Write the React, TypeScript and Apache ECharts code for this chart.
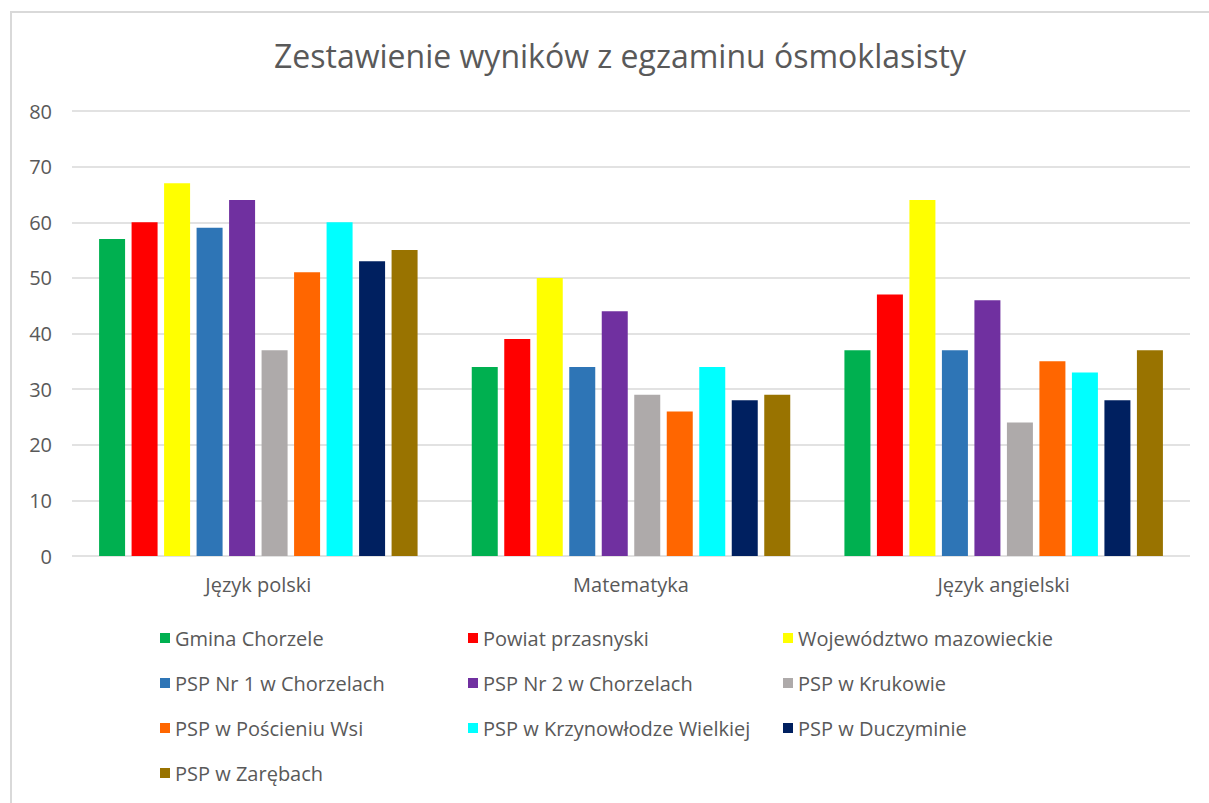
import React, { useEffect, useRef } from "react";
import * as echarts from "echarts";

const categories = ["Język polski", "Matematyka", "Język angielski"];
const seriesNames = [
  "Gmina Chorzele",
  "Powiat przasnyski",
  "Województwo mazowieckie",
  "PSP Nr 1 w Chorzelach",
  "PSP Nr 2 w Chorzelach",
  "PSP w Krukowie",
  "PSP w Pościeniu Wsi",
  "PSP w Krzynowłodze Wielkiej",
  "PSP w Duczyminie",
  "PSP w Zarębach",
];
const seriesColors = [
  "#00B050",
  "#FF0000",
  "#FFFF00",
  "#2E75B6",
  "#7030A0",
  "#AEAAAA",
  "#FF6600",
  "#00FFFF",
  "#002060",
  "#997300",
];
const gminaChorzele = [57, 34, 37];
const powiatPrzasnyski = [60, 39, 47];
const wojewodztwoMazowieckie = [67, 50, 64];
const pspNr1 = [59, 34, 37];
const pspNr2 = [64, 44, 46];
const pspKrukowo = [37, 29, 24];
const pspPoscienie = [51, 26, 35];
const pspKrzynowloga = [60, 34, 33];
const pspDuczymin = [53, 28, 28];
const pspZareby = [55, 29, 37];
const seriesValues = [
  gminaChorzele,
  powiatPrzasnyski,
  wojewodztwoMazowieckie,
  pspNr1,
  pspNr2,
  pspKrukowo,
  pspPoscienie,
  pspKrzynowloga,
  pspDuczymin,
  pspZareby,
];
const yTicks = { min: 0, max: 80, interval: 10 };

const legendColumns = [
  [0, 3, 6, 9],
  [1, 4, 7],
  [2, 5, 8],
];
const legendLefts = [160, 468, 783];

export default function App() {
  const ref = useRef<HTMLDivElement>(null);
  useEffect(() => {
    if (!ref.current) return;
    const chart = echarts.init(ref.current, null, { renderer: "svg" });
    const font = "'Open Sans', sans-serif";
    chart.setOption({
      animation: false,
      backgroundColor: "#ffffff",
      title: {
        text: "Zestawienie wyników z egzaminu ósmoklasisty",
        left: 615,
        top: 34,
        textAlign: "center",
        textStyle: {
          fontFamily: font,
          fontSize: 32,
          fontWeight: "normal",
          color: "#595959",
        },
      },
      graphic: [
        {
          type: "rect",
          shape: { x: 11, y: 12, width: 1240, height: 820 },
          style: { fill: "none", stroke: "#d9d9d9", lineWidth: 2 },
          silent: true,
          z: -1,
        },
      ],
      legend: legendColumns.map((col, i) => ({
        orient: "vertical",
        left: legendLefts[i],
        top: 627,
        padding: 0,
        itemWidth: 10,
        itemHeight: 10,
        itemGap: 23,
        icon: "rect",
        data: col.map((k) => seriesNames[k]),
        textStyle: {
          fontFamily: font,
          fontSize: 20,
          color: "#595959",
          lineHeight: 22,
        },
      })),
      grid: { left: 72, right: 19, top: 111, bottom: 247, containLabel: false },
      xAxis: {
        type: "category",
        data: categories,
        axisLine: { show: false },
        axisTick: { show: false },
        axisLabel: {
          fontFamily: font,
          fontSize: 20,
          color: "#595959",
          margin: 18,
        },
      },
      yAxis: {
        type: "value",
        min: yTicks.min,
        max: yTicks.max,
        interval: yTicks.interval,
        axisLine: { show: false },
        axisTick: { show: false },
        axisLabel: {
          fontFamily: font,
          fontSize: 20,
          color: "#595959",
          margin: 20,
        },
        splitLine: { lineStyle: { color: "#d9d9d9", width: 1.5 } },
      },
      series: seriesNames.map((name, i) => ({
        name,
        type: "bar",
        data: seriesValues[i],
        barWidth: 26,
        barGap: "25%",
        itemStyle: { color: seriesColors[i] },
      })),
    });
    return () => chart.dispose();
  }, []);
  return (
    <div
      ref={ref}
      style={{ position: "fixed", left: 0, top: 0, width: 1209, height: 803 }}
    />
  );
}
